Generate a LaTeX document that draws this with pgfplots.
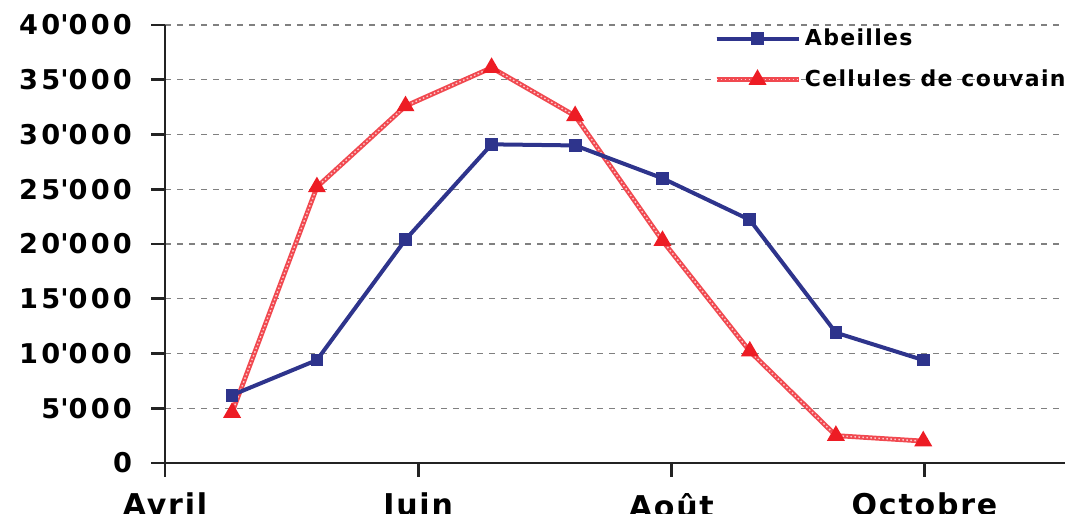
\documentclass[border=0pt]{standalone}
\usepackage{pgfplots}
\pgfplotsset{compat=1.18}
\usepackage{fontspec}
\setmainfont{DejaVu Sans}
\newfontfamily\lblfont[LetterSpace=6]{DejaVu Sans Bold}
\newfontfamily\yfont[LetterSpace=12]{DejaVu Sans Bold}
\definecolor{bleu}{RGB}{46,52,140}
\definecolor{rouge}{RGB}{237,28,36}
\definecolor{axc}{RGB}{35,35,35}
\begin{document}
\begin{tikzpicture}
\begin{axis}[
  name=ax,
  scale only axis, width=450pt, height=219pt,
  xmin=0, xmax=7.11, ymin=0, ymax=40000,
  axis lines=left,
  axis line style={-, axc, line width=1.4pt},
  tick align=outside,
  major tick length=7pt,
  tick style={axc, line width=1.4pt},
  xtick={0,2,4,6}, xticklabels={Avril,Juin,Août,Octobre},
  ytick={0,5000,...,40000},
  scaled y ticks=false,
  ymajorgrids,
  grid style={gray, dashed, line width=0.6pt},
  /pgf/number format/.cd, fixed, assume math mode=true, 1000 sep={\textquotesingle}, /pgfplots/.cd,
  yticklabel style={font=\yfont\fontsize{13.6pt}{15pt}\selectfont, xshift=-6pt},
  xticklabel style={font=\lblfont\fontsize{15pt}{17pt}\selectfont, yshift=-4.5pt},
  legend style={draw=none, fill=none, at={(rel axis cs:0.603,1.01)}, anchor=north west,
    font=\lblfont\fontsize{11pt}{12pt}\selectfont, row sep=6.5pt},
  legend cell align=left,
  reverse legend,
  legend image code/.code={\draw[#1] (0pt,0pt) -- (41pt,0pt); \draw[#1,mark repeat=2,mark phase=2] plot coordinates {(0pt,0pt) (20.5pt,0pt) (41pt,0pt)};},
  clip=false,
]
\addplot[rouge!80, line width=2.4pt, mark=triangle*, mark size=2.8pt, mark options={solid, rouge},
  postaction={draw=white, line width=0.7pt, dash pattern=on 0.8pt off 1.2pt, opacity=0.7}] coordinates {
(0.53,4600) (1.20,25200) (1.90,32600) (2.58,36100) (3.24,31700) (3.93,20300) (4.62,10200) (5.30,2500) (5.99,2000)};
\addplot[bleu, line width=2pt, mark=square*, mark size=2.2pt, mark options={solid}] coordinates {
(0.53,6200) (1.20,9400) (1.90,20400) (2.58,29100) (3.24,29000) (3.93,26000) (4.62,22200) (5.30,11900) (5.99,9400)};
\legend{Cellules de couvain,Abeilles}
\end{axis}
\pgfresetboundingbox
\path[use as bounding box] ([shift={(-82.5pt,-25.5pt)}]ax.south west) rectangle ([shift={(5.5pt,12.5pt)}]ax.north east);
\end{tikzpicture}
\end{document}
